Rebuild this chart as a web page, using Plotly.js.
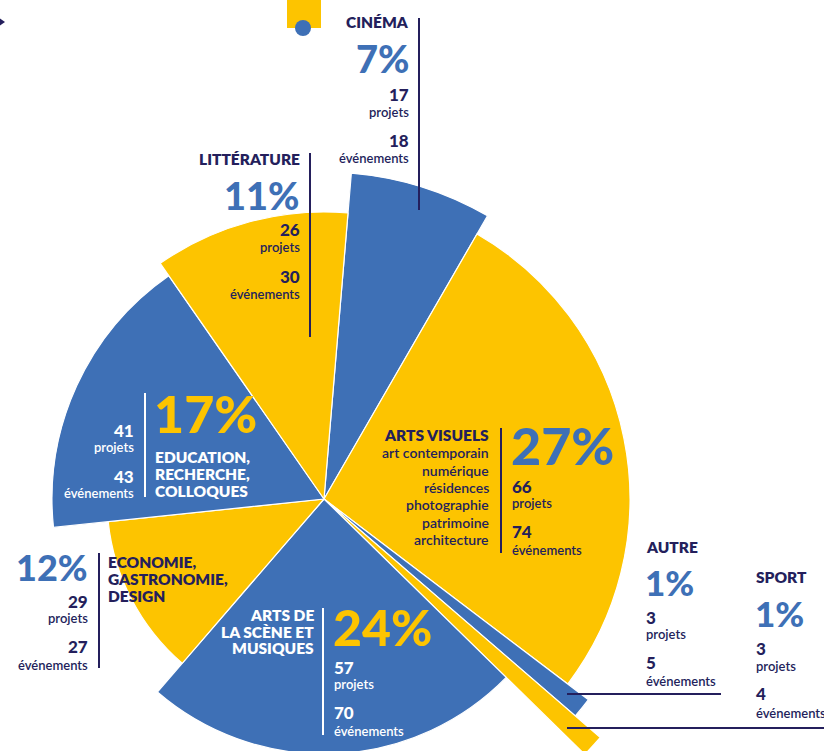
<!DOCTYPE html>
<html><head><meta charset="utf-8">
<script src="https://cdn.plot.ly/plotly-3.0.1.min.js"></script>
<style>
html,body{margin:0;padding:0;overflow:hidden;background:#fff;width:839px;height:751px;position:relative;}
#chart{position:absolute;left:-176px;top:-1px;width:1000px;height:1000px;}
</style>
</head><body><div id="chart"></div>
<script>
// ---- data ----
const categories = ["Cinéma","Arts visuels","Autre","Sport","Arts de la scène et musiques","Economie, gastronomie, design","Education, recherche, colloques","Littérature"];
const pourcentages = [7,27,1,1,24,12,17,11];
const projets = [17,66,3,3,57,29,41,26];
const evenements = [18,74,5,4,70,27,43,30];
const rayons = [327,306,332,365,255,217,272,287];
const titres = [["CINÉMA"],["ARTS VISUELS"],["AUTRE"],["SPORT"],["ARTS DE","LA SCÈNE ET","MUSIQUES"],["ECONOMIE,","GASTRONOMIE,","DESIGN"],["EDUCATION,","RECHERCHE,","COLLOQUES"],["LITTÉRATURE"]];
const sousCategoriesArtsVisuels = ["art contemporain","numérique","résidences","photographie","patrimoine","architecture"];
const unites = ["projets","événements"];

// ---- styles ----
const BLUE = "#3e70b6", YELLOW = "#fdc400", NAVY = "#241f5c", WHITE = "#ffffff";
const couleurs = [BLUE, YELLOW, BLUE, YELLOW, BLUE, YELLOW, BLUE, YELLOW];
const FONT = "Lato, 'Open Sans', sans-serif";
const START = 4.8;

const widths = pourcentages.map(p => p * 3.6);
let acc = START;
const thetas = widths.map(w => { const c = acc + w / 2; acc += w; return c; });

// pixel -> paper helpers (div is 1000x1000 shifted by -176,-1)
const W = 1000, OX = 176, OY = 1;
const PX = x => (x + OX) / W;
const PY = y => 1 - (y + OY) / W;

const annotations = [];
function t(x, y, text, size, color, anchor, weight) {
  annotations.push({xref:"paper", yref:"paper", x:PX(x), y:PY(y), text:String(text), showarrow:false,
    xanchor:anchor, yanchor:"middle", borderpad:0, font:{family:FONT, size:size, color:color, weight:weight}});
}
function stats(i, x, ys, color, anchor) {
  t(x, ys[0], projets[i], 17, color, anchor, 900);
  t(x, ys[1], unites[0], 13, color, anchor, 600);
  t(x, ys[2] - 1, evenements[i], 17, color, anchor, 900);
  t(x, ys[3] + 1, unites[1], 13, color, anchor, 600);
}
function titre(i, x, ys, color, anchor) {
  titres[i].forEach((s, k) => t(x, ys[k], s, 15.5, color, anchor, 800));
}
function pct(i, x, y, size, color, anchor) {
  t(x, y, pourcentages[i] + "%", size, color, anchor, 900);
}

// Cinéma
titre(0, 410, [22], NAVY, "right"); pct(0, 410, 58, 38, BLUE, "right"); stats(0, 410, [95,112,141,157], NAVY, "right");
// Littérature
titre(7, 301, [159], NAVY, "right"); pct(7, 301, 195, 38, BLUE, "right"); stats(7, 301, [230,247,277,293], NAVY, "right");
// Education
pct(6, 153, 413, 52, YELLOW, "left"); titre(6, 154, [457,474,491], WHITE, "left"); stats(6, 135, [430,447,477,492], WHITE, "right");
// Arts visuels
titre(1, 490, [435], NAVY, "right");
sousCategoriesArtsVisuels.forEach((s, k) => t(490, 453 + k * 17.3, s, 14, NAVY, "right", 600));
pct(1, 510, 445, 52, BLUE, "left"); stats(1, 511, [486,503,532,549], NAVY, "left");
// Autre
titre(2, 645, [547], NAVY, "left"); pct(2, 644, 582, 35, BLUE, "left"); stats(2, 645, [617,634,663,680], NAVY, "left");
// Sport
titre(3, 755, [577], NAVY, "left"); pct(3, 754, 613, 35, BLUE, "left"); stats(3, 755, [648,666,694,712], NAVY, "left");
// Economie
pct(5, 89, 567, 36, BLUE, "right"); titre(5, 107, [562,579,596], NAVY, "left"); stats(5, 89, [601,618,647,664], NAVY, "right");
// Arts de la scène
titre(4, 315, [615,632,648], WHITE, "right"); pct(4, 332, 627, 50, YELLOW, "left"); stats(4, 333, [667,684,713,730], WHITE, "left");

function line(x0, y0, x1, y1, color) {
  return {type:"line", xref:"paper", yref:"paper", x0:PX(x0), y0:PY(y0), x1:PX(x1), y1:PY(y1),
    line:{color:color, width:2}, layer:"above"};
}
const shapes = [
  line(419, 18, 419, 210, NAVY),
  line(310, 153, 310, 337, NAVY),
  line(145, 393, 145, 497, WHITE),
  line(501, 428, 501, 553, NAVY),
  line(99, 553, 99, 668, NAVY),
  line(323, 608, 323, 735, WHITE),
  line(567, 694, 721, 694, NAVY),
  line(567, 728, 833, 728, NAVY),
  {type:"rect", xref:"paper", yref:"paper", x0:PX(287), x1:PX(321), y0:PY(-5), y1:PY(28), fillcolor:YELLOW, line:{width:0}, layer:"above"},
  {type:"circle", xref:"paper", yref:"paper", x0:PX(295), x1:PX(311), y0:PY(20), y1:PY(36), fillcolor:BLUE, line:{width:0}, layer:"above"},
  {type:"path", xref:"paper", yref:"paper", path:`M ${PX(-2)} ${PY(17)} L ${PX(5)} ${PY(22)} L ${PX(-2)} ${PY(27)} Z`, fillcolor:NAVY, line:{width:0}, layer:"above"}
];

const trace = {
  type:"barpolar", r:rayons, theta:thetas, width:widths, text:categories,
  marker:{color:couleurs, line:{color:"#ffffff", width:1.2}},
  hoverinfo:"text", showlegend:false
};

const layout = {
  width:1000, height:1000, margin:{l:0,r:0,t:0,b:0}, paper_bgcolor:"rgba(0,0,0,0)",
  showlegend:false,
  polar:{
    domain:{x:[0,1], y:[0,1]}, bgcolor:"rgba(0,0,0,0)",
    radialaxis:{range:[0,500], visible:false, showgrid:false},
    angularaxis:{rotation:90, direction:"clockwise", visible:false, showgrid:false, showline:false, showticklabels:false, ticks:""}
  },
  annotations:annotations, shapes:shapes
};
Plotly.newPlot("chart", [trace], layout, {displayModeBar:false, staticPlot:true});
</script>
</body></html>
